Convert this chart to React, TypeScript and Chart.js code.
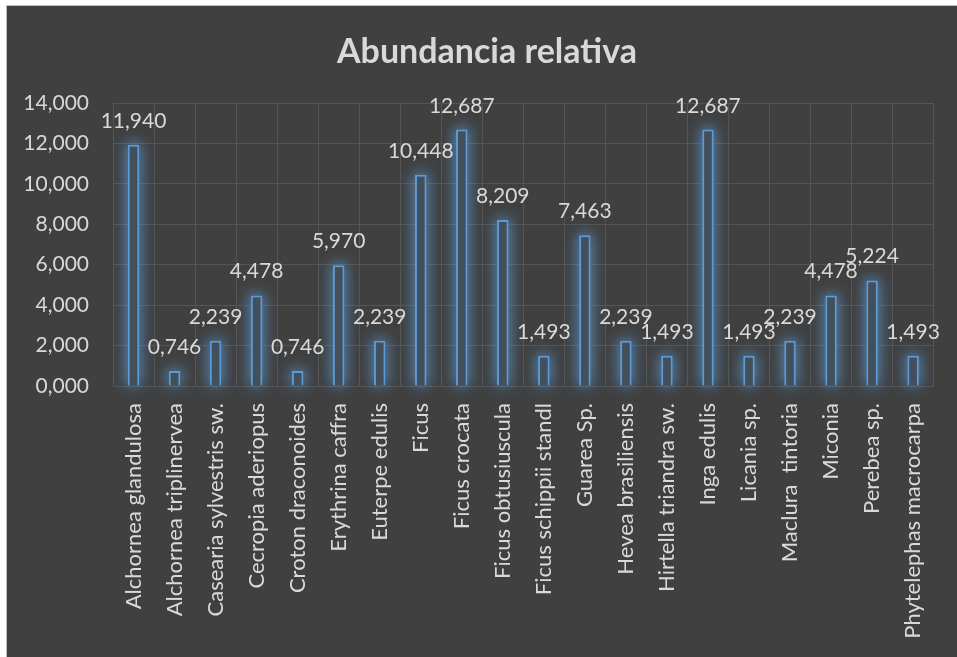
import React, { useEffect, useRef } from "react";
import { Chart, registerables } from "chart.js";

Chart.register(...registerables);

const categories = [
  "Alchornea glandulosa",
  "Alchornea triplinervea",
  "Casearia sylvestris sw.",
  "Cecropia aderiopus",
  "Croton draconoides",
  "Erythrina caffra",
  "Euterpe edulis",
  "Ficus",
  "Ficus crocata",
  "Ficus obtusiuscula",
  "Ficus schippii standl",
  "Guarea Sp.",
  "Hevea brasiliensis",
  "Hirtella triandra sw.",
  "Inga edulis",
  "Licania sp.",
  "Maclura  tintoria",
  "Miconia",
  "Perebea sp.",
  "Phytelephas macrocarpa",
];

const values = [
  11.94, 0.746, 2.239, 4.478, 0.746, 5.97, 2.239, 10.448, 12.687, 8.209, 1.493,
  7.463, 2.239, 1.493, 12.687, 1.493, 2.239, 4.478, 5.224, 1.493,
];

const yTicks = [0, 2, 4, 6, 8, 10, 12, 14];

const title = "Abundancia relativa";

const fmt = (v: number) => v.toFixed(3).replace(".", ",");

const FONT = "Lato, 'Open Sans', sans-serif";
const TEXT = "#d9d9d9";

export default function App() {
  const ref = useRef<HTMLCanvasElement | null>(null);

  useEffect(() => {
    if (!ref.current) return;
    const glow = {
      id: "glow",
      beforeDatasetsDraw(chart: any) {
        const ctx = chart.ctx;
        const meta = chart.getDatasetMeta(0);
        ctx.save();
        const off = 5000;
        ctx.shadowOffsetX = off;
        ctx.shadowColor = "rgba(91,155,213,0.75)";
        ctx.fillStyle = "#000";
        ctx.shadowBlur = 14;
        meta.data.forEach((bar: any) => {
          const { x, y, base, width } = bar.getProps(["x", "y", "base", "width"], true);
          ctx.fillRect(x - width / 2 - 2 - off, y - 2, width + 4, base - y + 2);
        });
        ctx.restore();
      },
    };
    const labels = {
      id: "labels",
      afterDraw(chart: any) {
        const ctx = chart.ctx;
        ctx.save();
        ctx.font = `21px ${FONT}`;
        ctx.fillStyle = TEXT;
        ctx.textAlign = "center";
        ctx.textBaseline = "alphabetic";
        const meta = chart.getDatasetMeta(0);
        meta.data.forEach((bar: any, i: number) => {
          ctx.fillText(fmt(values[i]), bar.x, bar.y - 17);
        });
        ctx.font = `bold 34px ${FONT}`;
        ctx.fillText(title, 480, 57);
        ctx.restore();
      },
    };
    const chart = new Chart(ref.current, {
      type: "bar",
      data: {
        labels: categories,
        datasets: [
          {
            data: values,
            backgroundColor: "#43505c",
            borderColor: "#5b9bd5",
            borderWidth: 2,
            barPercentage: 0.28,
            categoryPercentage: 1,
          },
        ],
      },
      options: {
        responsive: false,
        animation: false,
        devicePixelRatio: 1,
        layout: { padding: { left: 0, top: 97, right: 20, bottom: 0 } },
        plugins: {
          legend: { display: false },
          title: { display: false },
          tooltip: { enabled: false },
        },
        scales: {
          x: {
            grid: { color: "#555555", drawTicks: false, offset: true },
            border: { color: "#555555" },
            ticks: {
              color: TEXT,
              font: { family: FONT, size: 22 },
              minRotation: 90,
              maxRotation: 90,
              autoSkip: false,
              padding: 17,
            },
            afterFit(scale: any) {
              scale.height = 271;
            },
          },
          y: {
            min: 0,
            max: 14,
            afterBuildTicks(scale: any) {
              scale.ticks = yTicks.map((v) => ({ value: v }));
            },
            grid: { color: "#555555", drawTicks: false },
            border: { display: false },
            ticks: {
              color: TEXT,
              font: { family: FONT, size: 21 },
              padding: 24,
              callback: (v: any) => fmt(Number(v)),
            },
            afterFit(scale: any) {
              scale.width = 106;
            },
          },
        },
      },
      plugins: [glow, labels],
    });
    return () => chart.destroy();
  }, []);

  return (
    <div
      style={{
        position: "absolute",
        left: 6,
        top: 5,
        width: 951,
        height: 652,
        borderTop: "1px solid #bfbfbf",
        borderLeft: "1px solid #bfbfbf",
        background: "#404040",
        boxSizing: "border-box",
      }}
    >
      <canvas ref={ref} width={950} height={651} style={{ display: "block", width: 950, height: 651 }} />
    </div>
  );
}
